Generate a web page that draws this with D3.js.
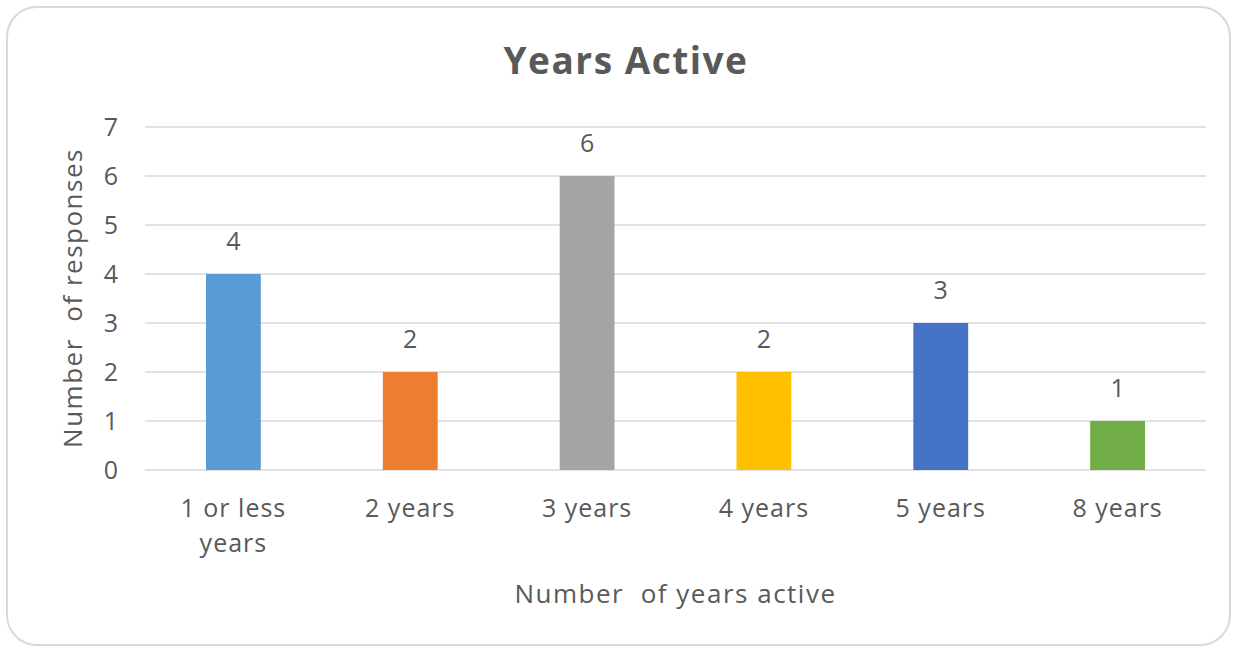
<!DOCTYPE html>
<html><head><meta charset="utf-8">
<script src="https://cdn.jsdelivr.net/npm/d3@7"></script>
<style>body{margin:0;background:#fff;} svg{display:block;}</style>
</head><body><svg id="c" width="1237" height="650"></svg>
<script>
const categories = [["1 or less","years"],["2 years"],["3 years"],["4 years"],["5 years"],["8 years"]];
const values = [4,2,6,2,3,1];
const colors = ["#5B9BD5","#ED7D31","#A5A5A5","#FFC000","#4472C4","#70AD47"];
const yTicks = [0,1,2,3,4,5,6,7];
const title = "Years Active";
const yTitle = "Number  of responses";
const xTitle = "Number  of years active";

const font = "'Open Sans', sans-serif";
const txt = "#595959";
const svg = d3.select("#c");
svg.append("rect").attr("x",7).attr("y",7).attr("width",1223).attr("height",638)
  .attr("rx",30).attr("fill","#fff").attr("stroke","#d9d9d9").attr("stroke-width",2);

const L=145,R=1206,T=127,B=470;
const x = d3.scaleBand().domain(d3.range(values.length)).range([L,R]).paddingInner(0.69).paddingOuter(0.345);
const y = d3.scaleLinear().domain([0,7]).range([B,T]);

svg.append("g").selectAll("line").data(yTicks).join("line")
  .attr("x1",L).attr("x2",R).attr("y1",d=>y(d)).attr("y2",d=>y(d))
  .attr("stroke","#d9d9d9").attr("stroke-width",1.5);

svg.append("g").selectAll("text").data(yTicks).join("text")
  .attr("x",118).attr("y",d=>y(d)).attr("dy","0.35em").attr("text-anchor","end")
  .attr("font-family",font).attr("font-size",25).attr("fill",txt).text(d=>d);

svg.append("g").selectAll("rect").data(values).join("rect")
  .attr("x",(d,i)=>x(i)).attr("width",x.bandwidth())
  .attr("y",d=>y(d)).attr("height",d=>y(0)-y(d)).attr("fill",(d,i)=>colors[i]);

svg.append("g").selectAll("text").data(values).join("text")
  .attr("x",(d,i)=>x(i)+x.bandwidth()/2).attr("y",d=>y(d)-33).attr("dy","0.35em")
  .attr("text-anchor","middle").attr("font-family",font).attr("font-size",25).attr("fill",txt).text(d=>d);

const xl = svg.append("g").selectAll("text").data(categories).join("text")
  .attr("x",(d,i)=>x(i)+x.bandwidth()/2).attr("y",517)
  .attr("text-anchor","middle").attr("font-family",font).attr("font-size",25)
  .attr("letter-spacing",1).attr("fill",txt);
xl.selectAll("tspan").data(d=>d).join("tspan")
  .attr("x",function(){return this.parentNode.getAttribute("x");})
  .attr("dy",(d,i)=>i===0?0:"1.4em").text(d=>d);

svg.append("text").attr("x",(L+R)/2).attr("y",603).attr("text-anchor","middle")
  .attr("font-family",font).attr("font-size",26).attr("letter-spacing",1.5).attr("fill",txt)
  .style("white-space","pre").text(xTitle);

svg.append("text").attr("transform",`translate(82,298) rotate(-90)`).attr("text-anchor","middle")
  .attr("font-family",font).attr("font-size",26).attr("letter-spacing",1.5).attr("fill",txt)
  .style("white-space","pre").text(yTitle);

svg.append("text").attr("x",626).attr("y",74).attr("text-anchor","middle")
  .attr("font-family",font).attr("font-size",37).attr("letter-spacing",1.5).attr("font-weight","bold")
  .attr("fill",txt).text(title);
</script></body></html>
